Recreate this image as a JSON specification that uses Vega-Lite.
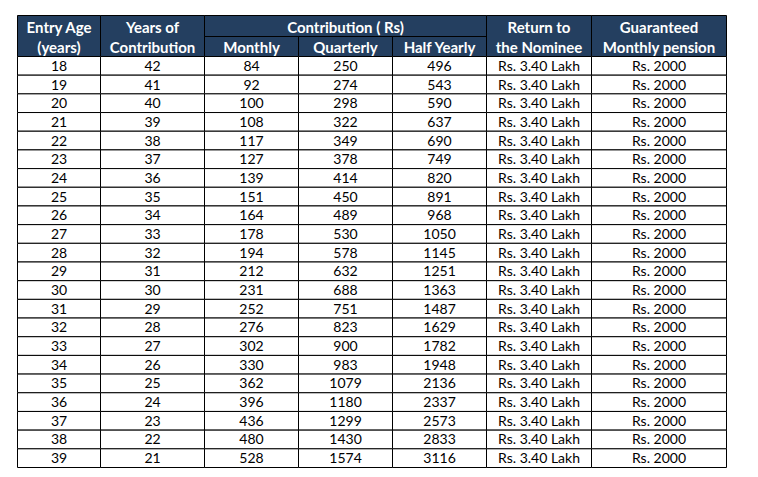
{
  "$schema": "https://vega.github.io/schema/vega-lite/v6.json",
  "width": 709,
  "height": 452,
  "autosize": {"type": "none"},
  "padding": {"left": 17.5, "top": 15.5, "right": 31.5, "bottom": 9.5},
  "background": "white",
  "config": {"view": {"stroke": null}},
  "datasets": {
    "rows": [
      {"age": 18, "years": 42, "monthly": 84, "quarterly": 250, "halfYearly": 496, "nominee": "Rs. 3.40 Lakh", "pension": "Rs. 2000"},
      {"age": 19, "years": 41, "monthly": 92, "quarterly": 274, "halfYearly": 543, "nominee": "Rs. 3.40 Lakh", "pension": "Rs. 2000"},
      {"age": 20, "years": 40, "monthly": 100, "quarterly": 298, "halfYearly": 590, "nominee": "Rs. 3.40 Lakh", "pension": "Rs. 2000"},
      {"age": 21, "years": 39, "monthly": 108, "quarterly": 322, "halfYearly": 637, "nominee": "Rs. 3.40 Lakh", "pension": "Rs. 2000"},
      {"age": 22, "years": 38, "monthly": 117, "quarterly": 349, "halfYearly": 690, "nominee": "Rs. 3.40 Lakh", "pension": "Rs. 2000"},
      {"age": 23, "years": 37, "monthly": 127, "quarterly": 378, "halfYearly": 749, "nominee": "Rs. 3.40 Lakh", "pension": "Rs. 2000"},
      {"age": 24, "years": 36, "monthly": 139, "quarterly": 414, "halfYearly": 820, "nominee": "Rs. 3.40 Lakh", "pension": "Rs. 2000"},
      {"age": 25, "years": 35, "monthly": 151, "quarterly": 450, "halfYearly": 891, "nominee": "Rs. 3.40 Lakh", "pension": "Rs. 2000"},
      {"age": 26, "years": 34, "monthly": 164, "quarterly": 489, "halfYearly": 968, "nominee": "Rs. 3.40 Lakh", "pension": "Rs. 2000"},
      {"age": 27, "years": 33, "monthly": 178, "quarterly": 530, "halfYearly": 1050, "nominee": "Rs. 3.40 Lakh", "pension": "Rs. 2000"},
      {"age": 28, "years": 32, "monthly": 194, "quarterly": 578, "halfYearly": 1145, "nominee": "Rs. 3.40 Lakh", "pension": "Rs. 2000"},
      {"age": 29, "years": 31, "monthly": 212, "quarterly": 632, "halfYearly": 1251, "nominee": "Rs. 3.40 Lakh", "pension": "Rs. 2000"},
      {"age": 30, "years": 30, "monthly": 231, "quarterly": 688, "halfYearly": 1363, "nominee": "Rs. 3.40 Lakh", "pension": "Rs. 2000"},
      {"age": 31, "years": 29, "monthly": 252, "quarterly": 751, "halfYearly": 1487, "nominee": "Rs. 3.40 Lakh", "pension": "Rs. 2000"},
      {"age": 32, "years": 28, "monthly": 276, "quarterly": 823, "halfYearly": 1629, "nominee": "Rs. 3.40 Lakh", "pension": "Rs. 2000"},
      {"age": 33, "years": 27, "monthly": 302, "quarterly": 900, "halfYearly": 1782, "nominee": "Rs. 3.40 Lakh", "pension": "Rs. 2000"},
      {"age": 34, "years": 26, "monthly": 330, "quarterly": 983, "halfYearly": 1948, "nominee": "Rs. 3.40 Lakh", "pension": "Rs. 2000"},
      {"age": 35, "years": 25, "monthly": 362, "quarterly": 1079, "halfYearly": 2136, "nominee": "Rs. 3.40 Lakh", "pension": "Rs. 2000"},
      {"age": 36, "years": 24, "monthly": 396, "quarterly": 1180, "halfYearly": 2337, "nominee": "Rs. 3.40 Lakh", "pension": "Rs. 2000"},
      {"age": 37, "years": 23, "monthly": 436, "quarterly": 1299, "halfYearly": 2573, "nominee": "Rs. 3.40 Lakh", "pension": "Rs. 2000"},
      {"age": 38, "years": 22, "monthly": 480, "quarterly": 1430, "halfYearly": 2833, "nominee": "Rs. 3.40 Lakh", "pension": "Rs. 2000"},
      {"age": 39, "years": 21, "monthly": 528, "quarterly": 1574, "halfYearly": 3116, "nominee": "Rs. 3.40 Lakh", "pension": "Rs. 2000"}
    ],
    "header": [
      {"cell": "Entry Age", "c0": 0, "c1": 1, "r0": 0, "r1": 2},
      {"cell": "Years of Contribution", "c0": 1, "c1": 2, "r0": 0, "r1": 2},
      {"cell": "Contribution ( Rs)", "c0": 2, "c1": 5, "r0": 0, "r1": 1},
      {"cell": "Monthly", "c0": 2, "c1": 3, "r0": 1, "r1": 2},
      {"cell": "Quarterly", "c0": 3, "c1": 4, "r0": 1, "r1": 2},
      {"cell": "Half Yearly", "c0": 4, "c1": 5, "r0": 1, "r1": 2},
      {"cell": "Return to the Nominee", "c0": 5, "c1": 6, "r0": 0, "r1": 2},
      {"cell": "Guaranteed Monthly pension", "c0": 6, "c1": 7, "r0": 0, "r1": 2}
    ],
    "headerText": [
      {"label": "Entry Age", "c0": 0, "c1": 1, "line": 0},
      {"label": "(years)", "c0": 0, "c1": 1, "line": 1},
      {"label": "Years of", "c0": 1, "c1": 2, "line": 0},
      {"label": "Contribution", "c0": 1, "c1": 2, "line": 1},
      {"label": "Contribution ( Rs)", "c0": 2, "c1": 5, "line": 0},
      {"label": "Monthly", "c0": 2, "c1": 3, "line": 1},
      {"label": "Quarterly", "c0": 3, "c1": 4, "line": 1},
      {"label": "Half Yearly", "c0": 4, "c1": 5, "line": 1},
      {"label": "Return to", "c0": 5, "c1": 6, "line": 0},
      {"label": "the Nominee", "c0": 5, "c1": 6, "line": 1},
      {"label": "Guaranteed", "c0": 6, "c1": 7, "line": 0},
      {"label": "Monthly pension", "c0": 6, "c1": 7, "line": 1}
    ]
  },
  "layer": [
    {
      "data": {"name": "header"},
      "mark": {"type": "rect", "fill": "#243F60", "stroke": "#000000", "strokeWidth": 1},
      "encoding": {
        "x": {"field": "c0", "type": "quantitative", "axis": null, "scale": {"domain": [0, 1, 2, 3, 4, 5, 6, 7], "range": [0, 83, 187, 281, 375, 469, 574, 709], "nice": false, "zero": false}},
        "x2": {"field": "c1"},
        "y": {"field": "r0", "type": "quantitative", "axis": null, "scale": {"domain": [0, 1, 2, 24], "range": [0, 21, 41, 452], "nice": false, "zero": false}},
        "y2": {"field": "r1"}
      }
    },
    {
      "data": {"name": "rows"},
      "transform": [
        {"window": [{"op": "row_number", "as": "rn"}]},
        {"fold": ["age", "years", "monthly", "quarterly", "halfYearly", "nominee", "pension"]},
        {"calculate": "indexof(['age','years','monthly','quarterly','halfYearly','nominee','pension'], datum.key)", "as": "c0"},
        {"calculate": "datum.c0 + 1", "as": "c1"},
        {"calculate": "datum.rn + 1", "as": "r0"},
        {"calculate": "datum.rn + 2", "as": "r1"}
      ],
      "mark": {"type": "rect", "fill": "white", "stroke": "#000000", "strokeWidth": 1},
      "encoding": {
        "x": {"field": "c0", "type": "quantitative", "axis": null, "scale": {"domain": [0, 1, 2, 3, 4, 5, 6, 7], "range": [0, 83, 187, 281, 375, 469, 574, 709], "nice": false, "zero": false}},
        "x2": {"field": "c1"},
        "y": {"field": "r0", "type": "quantitative", "axis": null, "scale": {"domain": [0, 1, 2, 24], "range": [0, 21, 41, 452], "nice": false, "zero": false}},
        "y2": {"field": "r1"}
      }
    },
    {
      "data": {"name": "headerText"},
      "transform": [
        {"calculate": "(datum.c0 + datum.c1) / 2", "as": "cm"},
        {"calculate": "datum.line + 0.5", "as": "rm"}
      ],
      "mark": {"type": "text", "color": "white", "font": "Lato", "fontWeight": "bold", "fontSize": 15, "baseline": "middle", "align": "center", "dy": 1.5},
      "encoding": {
        "x": {"field": "cm", "type": "quantitative", "axis": null, "scale": {"domain": [0, 1, 2, 3, 4, 5, 6, 7], "range": [0, 83, 187, 281, 375, 469, 574, 709], "nice": false, "zero": false}},
        "y": {"field": "rm", "type": "quantitative", "axis": null, "scale": {"domain": [0, 1, 2, 24], "range": [0, 21, 41, 452], "nice": false, "zero": false}},
        "text": {"field": "label", "type": "nominal"}
      }
    },
    {
      "data": {"name": "rows"},
      "transform": [
        {"window": [{"op": "row_number", "as": "rn"}]},
        {"fold": ["age", "years", "monthly", "quarterly", "halfYearly", "nominee", "pension"]},
        {"calculate": "indexof(['age','years','monthly','quarterly','halfYearly','nominee','pension'], datum.key) + 0.5", "as": "cm"},
        {"calculate": "datum.rn + 1.5", "as": "rm"}
      ],
      "mark": {"type": "text", "color": "#000000", "font": "Lato", "fontSize": 14, "baseline": "middle", "align": "center", "dy": 1},
      "encoding": {
        "x": {"field": "cm", "type": "quantitative", "axis": null, "scale": {"domain": [0, 1, 2, 3, 4, 5, 6, 7], "range": [0, 83, 187, 281, 375, 469, 574, 709], "nice": false, "zero": false}},
        "y": {"field": "rm", "type": "quantitative", "axis": null, "scale": {"domain": [0, 1, 2, 24], "range": [0, 21, 41, 452], "nice": false, "zero": false}},
        "text": {"field": "value", "type": "nominal"}
      }
    }
  ]
}
